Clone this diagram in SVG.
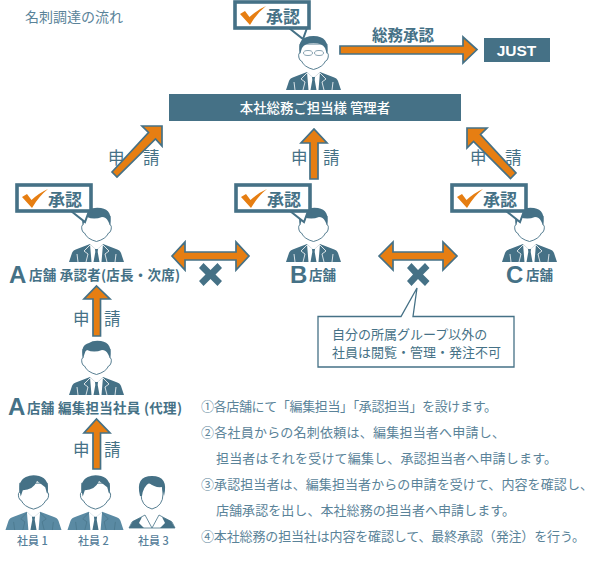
<svg xmlns="http://www.w3.org/2000/svg" width="594" height="561" viewBox="0 0 594 561">
<defs>
<style>
text{font-family:"Noto Sans CJK JP","Noto Sans",sans-serif;fill:#457186}
.b{font-weight:700}
.w{fill:#fff}
.arr{fill:#e67e12;stroke:#457186;stroke-width:1.700}
.n{font-size:13.500px;font-weight:700}
.big{font-family:"Liberation Sans",sans-serif;font-weight:700;font-size:24px}
.ap{font-size:16.500px}
.p{font-size:13px;font-weight:400;fill:#5a8399}
.s{font-size:11px;font-weight:500;fill:#55809a}
.face{fill:#fff;stroke:#457186;stroke-width:.9}
.tie{fill:#457186}
.cross{fill:#457186}
.tail{fill:#fff;stroke:#457186;stroke-width:2}
</style>
<g id="faceShape"><path class="face" d="M14 17Q12 17 13 22 14 25 15.500 25 18 31 27.500 33.500 37 31 39.500 25 41 25 42 22 43 17 41 17L41 8H14Z"/></g>
<g id="torso">
<path d="M0 54 3 45Q4 42 8 41L21 36 27.500 42 34 36 47 41Q51 42 52 45L55 54Z"/>
<path d="M21 36 22.500 54H32.500L34 36 27.500 42Z" fill="#fff"/>
<path class="tie" d="M26 41H29L28.700 44 30.500 54H24.500L26.300 44Z"/>
</g>
<symbol id="man" viewBox="0 0 55 54" overflow="visible">
<use href="#torso" fill="#457186"/>
<path d="M21 37 15 43 19 46 17 54M34 37 40 43 36 46 38 54M8 46 9 54M47 46 46 54" stroke="#fff" stroke-width=".8" fill="none"/>
<use href="#faceShape"/>
<path d="M14 17Q11 4 20 2 24 -1 32 0 44 2 41 17L39 13Q37 9 33 9 25 12 18 9 16 10 15.500 13Z" fill="#457186"/>
</symbol>
<symbol id="boss" viewBox="0 0 55 54" overflow="visible">
<use href="#torso" fill="#457186"/>
<path d="M21 37 15 43 19 46 17 54M34 37 40 43 36 46 38 54M8 46 9 54M47 46 46 54" stroke="#fff" stroke-width=".8" fill="none"/>
<use href="#faceShape"/>
<path d="M14 18Q10 0 27.500 0 44 0 41 18L39 12Q36 7 27.500 7 19 7 16 12Z" fill="#457186"/>
<g fill="#fff" stroke="#8aa4b2"><ellipse cx="22" cy="17" rx="4.500" ry="2.500"/><ellipse cx="33" cy="17" rx="4.500" ry="2.500"/></g>
</symbol>
<symbol id="staff" viewBox="0 0 55 53" overflow="visible">
<use href="#torso" fill="#5a8aa3"/>
<path d="M21 37 15 43 19 46 17 54M34 37 40 43 36 46 38 54M8 46 9 54M47 46 46 54" stroke="#457186" stroke-width=".6" fill="none"/>
<use href="#faceShape"/>
<path d="M15 21Q11 6 20 2 26 -1 33 1 44 4 41 19L39 12Q35 9 31 6 27 15 17 15Z" fill="#457186"/>
</symbol>
<symbol id="lady" viewBox="0 0 46 52" overflow="visible">
<path d="M0 52 3 46 16 39 23 52 30 39 43 46 46 52Z" fill="#fff" stroke="#457186" stroke-width=".8"/>
<path d="M0 52 4 45 13 41 10 47 15 52ZM46 52 42 45 33 41 36 47 31 52Z" fill="#457186"/>
<path d="M12 18Q12 30 23 33 34 30 34 18L33 7H13Z" class="face"/>
<path d="M11 20Q6 0 23 0 40 0 35 20L33 11Q26 12 20 7 14 11 13 20Z" fill="#457186"/>
</symbol>
<symbol id="ok" viewBox="0 0 78 40" overflow="visible">
<path class="tail" d="M56 28 70 39 74 28Z"/>
<rect x="2" y="2" width="74" height="26" fill="#fff" stroke="#457186" stroke-width="3.600"/>
<path d="M7 14 12 11 16.500 17Q24 10 33 6 24 13 17 25Z" fill="#e67e12"/>
<text x="33" y="23" font-size="17" class="b">承認</text>
</symbol>
</defs>

<text x="25" y="22" font-size="14" font-weight="400" style="fill:#5a8399">名刺調達の流れ</text>

<g id="labels">
<text class="b" x="372" y="41" font-size="15.500">総務承認</text>
<text class="ap" x="108" y="164">申</text><text class="ap" x="143" y="164">請</text>
<text class="ap" x="291" y="164">申</text><text class="ap" x="323" y="164">請</text>
<text class="ap" x="470" y="164">申</text><text class="ap" x="505" y="164">請</text>
<text class="ap" x="73" y="325">申</text><text class="ap" x="104" y="325">請</text>
<text class="ap" x="73" y="456">申</text><text class="ap" x="104" y="456">請</text>
</g>

<g id="connectors">
<path class="arr" d="M340 46H463V37L477 49.500 463 63V54H340Z"/>
<path class="arr" d="M112 172 148.500 132.500 142 126H162V146L155.500 139 117 177Z"/>
<path class="arr" d="M310 179V143H301L314 129 327 143H318V179Z"/>
<path class="arr" d="M516 173 510.500 178.500 473.500 141.500 467 148V128H487L480.500 134.500Z"/>
<path class="arr" d="M172 256 185 242V252H236V242L249 256 236 270V260H185V270Z"/>
<path class="arr" d="M379 256 393 242V252H443V242L457 256 443 270V260H393V270Z"/>
<path class="arr" d="M93 336V299H84L96.500 286 110 299H100.500V336Z"/>
<path class="arr" d="M93 469V433H84L96.500 419 110 433H100.500V469Z"/>
</g>

<g id="approver-hq">
<use href="#boss" x="286" y="36" width="55" height="54"/>
<use href="#ok" x="233" y="0" width="78" height="40"/>
</g>

<g id="hq-bar"><rect x="169" y="94" width="292" height="27" fill="#457186"/><text class="w" x="315" y="113" font-size="13.400" font-weight="500" text-anchor="middle">本社総務ご担当様 管理者</text></g>
<g id="just"><rect x="484" y="38" width="66" height="24" fill="#457186"/><text class="w" x="516.500" y="56" font-size="15.500" font-weight="700" text-anchor="middle" style="font-family:'Liberation Sans',sans-serif">JUST</text></g>

<g id="store-a"><use href="#man" x="69" y="208" width="55" height="54"/><use href="#ok" x="15" y="183" width="78" height="40"/>
<text class="big" x="9" y="283">A</text><text class="n" x="29" y="280" textLength="151">店舗 承認者(店長・次席)</text></g>
<g id="store-b"><use href="#man" x="286" y="208" width="55" height="54"/><use href="#ok" x="234" y="183" width="78" height="40"/>
<text class="big" x="290" y="283">B</text><text class="n" x="309" y="280">店舗</text></g>
<g id="store-c"><use href="#man" x="502" y="208" width="55" height="54"/><use href="#ok" x="450" y="183" width="78" height="40"/>
<text class="big" x="506" y="283">C</text><text class="n" x="526" y="280">店舗</text></g>

<path id="cross-1" class="cross" d="M203.500 263 210.500 270 217.500 263 222 268 215.500 274.500 222 281 217.500 286 210.500 279 203.500 286 199 281 205.500 274.500 199 268Z"/>
<path id="cross-2" class="cross" d="M411.500 263 418 270 425 263 429.500 268 423 274.500 429.500 281 425 286 418 279 411.500 286 407 281 413 274.500 407 268Z"/>

<g id="note"><path d="M318 316.500H401L417 288 413 316.500H514V367H318Z" fill="#fff" stroke="#457186" stroke-width="1.300"/>
<text x="332" y="339" font-size="13">自分の所属グループ以外の</text><text x="332" y="357" font-size="13">社員は閲覧・管理・発注不可</text></g>

<g id="editor"><use href="#man" x="69" y="341" width="55" height="54"/>
<text class="big" x="8" y="415">A</text><text class="n" x="27" y="413" textLength="155">店舗 編集担当社員 (代理)</text></g>

<g id="staff1"><use href="#staff" x="5" y="475" width="57" height="54"/><text class="s" x="17" y="545">社員 1</text></g>
<g id="staff2"><use href="#staff" x="67" y="475" width="57" height="54"/><text class="s" x="78" y="545">社員 2</text></g>
<g id="staff3"><use href="#lady" x="129" y="476" width="46" height="52"/><text class="s" x="138" y="545">社員 3</text></g>

<g id="steps">
<text class="p" x="201" y="411" textLength="296">①各店舗にて「編集担当」「承認担当」を設けます。</text>
<text class="p" x="201" y="437" textLength="304">②各社員からの名刺依頼は、編集担当者へ申請し、</text>
<text class="p" x="216" y="463" textLength="341">担当者はそれを受けて編集し、承認担当者へ申請します。</text>
<text class="p" x="201" y="489" textLength="392">③承認担当者は、編集担当者からの申請を受けて、内容を確認し、</text>
<text class="p" x="216" y="515" textLength="299">店舗承認を出し、本社総務の担当者へ申請します。</text>
<text class="p" x="201" y="541" textLength="384">④本社総務の担当社は内容を確認して、最終承認（発注）を行う。</text>
</g>
</svg>
